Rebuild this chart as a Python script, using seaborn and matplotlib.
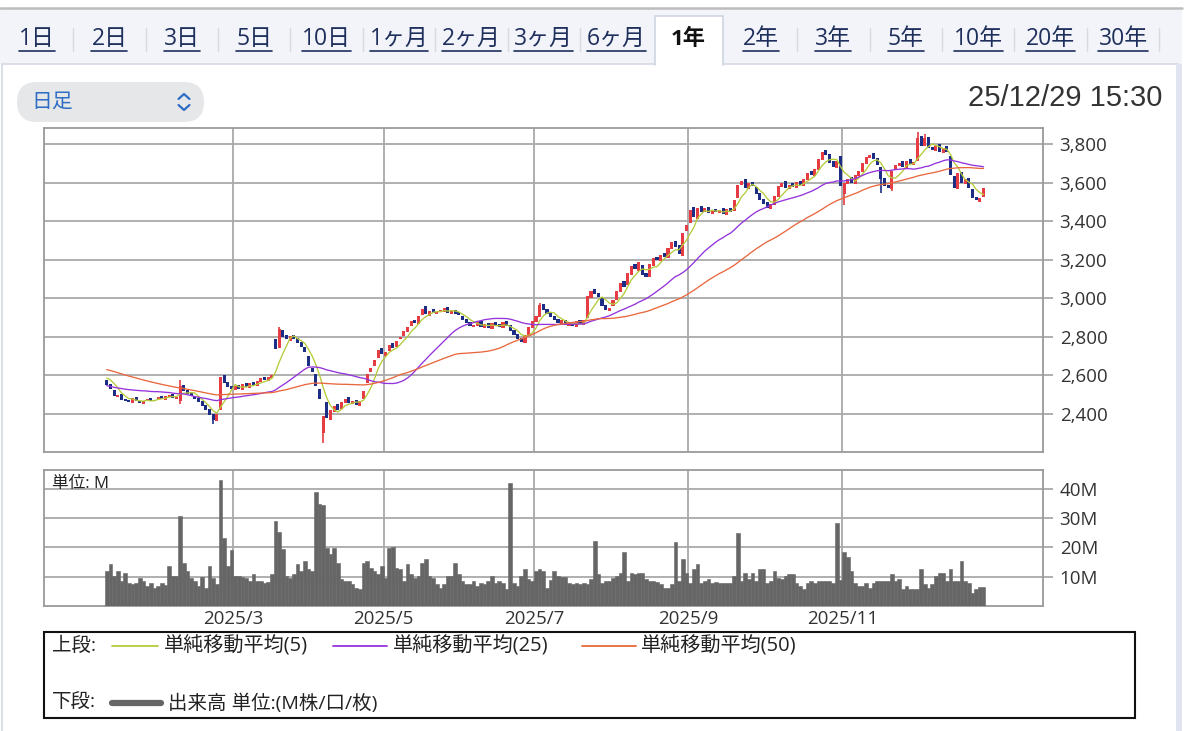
import numpy as np
import pandas as pd
import matplotlib
matplotlib.use("Agg")
import matplotlib.pyplot as plt
from matplotlib.patches import Rectangle, FancyBboxPatch
from matplotlib.ticker import FuncFormatter
import seaborn as sns

# ------------------------------------------------------------------
# data (2025 daily bars)
# ------------------------------------------------------------------
JP_HOLIDAYS = ["2025-01-13", "2025-02-11", "2025-02-24", "2025-03-20",
               "2025-04-29", "2025-05-05", "2025-05-06", "2025-07-21",
               "2025-08-11", "2025-09-15", "2025-09-23", "2025-10-13",
               "2025-11-03", "2025-11-24"]
START, END = "2025-01-08", "2025-12-29"

# closes before the window, only used to warm up the moving averages
pre_closes = [2785, 2770, 2790, 2760, 2745, 2755, 2730, 2720, 2740, 2715,
              2705, 2725, 2700, 2690, 2710, 2695, 2680, 2700, 2685, 2670,
              2690, 2675, 2660, 2680, 2665,
              2640, 2610, 2580, 2560, 2540, 2520, 2530, 2510, 2500, 2490,
              2510, 2520, 2500, 2495, 2515, 2530, 2545, 2560, 2540, 2555,
              2575, 2590, 2610, 2605]

closes = [2550, 2530, 2495, 2500, 2475, 2470, 2460, 2485, 2470, 2455,
          2465, 2480, 2470, 2475, 2490, 2480, 2495, 2500, 2485, 2490,
          2545, 2520, 2505, 2495, 2480, 2460, 2440, 2420, 2395, 2370,
          2400, 2590, 2560, 2540, 2530, 2545, 2530, 2555, 2540, 2560,
          2550, 2570, 2585, 2575, 2590, 2600, 2735, 2840, 2800, 2790,
          2805, 2790, 2770, 2745, 2720, 2650, 2620, 2545, 2480, 2390,
          2380, 2420, 2440, 2420, 2460, 2480, 2455, 2470, 2445, 2465,
          2520, 2610, 2640, 2680, 2730, 2710, 2720, 2760, 2740, 2780,
          2800, 2830, 2850, 2880, 2870, 2910, 2945, 2920, 2935, 2925,
          2930, 2940, 2950, 2925, 2935, 2920, 2915, 2890, 2870, 2855,
          2860, 2875, 2850, 2865, 2845, 2870, 2860, 2850, 2875, 2855,
          2830, 2810, 2790, 2775, 2810, 2850, 2880, 2910, 2965, 2940,
          2920, 2905, 2890, 2870, 2885, 2860, 2870, 2855, 2880, 2865,
          2885, 3010, 3040, 3020, 3005, 2960, 2940, 2950, 2990, 3040,
          3080, 3060, 3130, 3170, 3150, 3190, 3120, 3110, 3180, 3210,
          3200, 3225, 3215, 3260, 3290, 3265, 3230, 3340, 3380, 3460,
          3420, 3470, 3450, 3470, 3440, 3455, 3445, 3460, 3435, 3465,
          3450, 3510, 3590, 3610, 3570, 3600, 3580, 3540, 3510, 3490,
          3470, 3490, 3530, 3580, 3600, 3570, 3590, 3575, 3605, 3585,
          3620, 3650, 3640, 3670, 3720, 3760, 3745, 3700, 3680, 3710,
          3580, 3600, 3620, 3600, 3640, 3660, 3700, 3735, 3745, 3720,
          3690, 3620, 3580, 3570, 3660, 3690, 3700, 3680, 3710, 3695,
          3705, 3830, 3790, 3830, 3780, 3770, 3790, 3760, 3780, 3760,
          3640, 3570, 3650, 3600, 3620, 3570, 3520, 3510, 3520, 3570]

opens = [2575, 2555, 2525, 2490, 2505, 2480, 2475, 2455, 2490, 2470,
         2450, 2470, 2485, 2465, 2480, 2495, 2475, 2490, 2505, 2480,
         2470, 2550, 2525, 2510, 2495, 2485, 2465, 2445, 2425, 2400,
         2365, 2420, 2600, 2565, 2545, 2525, 2550, 2525, 2560, 2535,
         2565, 2545, 2565, 2590, 2570, 2585, 2790, 2740, 2835, 2810,
         2780, 2810, 2795, 2775, 2750, 2700, 2640, 2610, 2530, 2300,
         2460, 2370, 2410, 2450, 2425, 2455, 2490, 2450, 2475, 2440,
         2480, 2560, 2620, 2650, 2690, 2740, 2700, 2725, 2770, 2745,
         2790, 2805, 2825, 2855, 2890, 2865, 2915, 2960, 2910, 2945,
         2920, 2935, 2930, 2955, 2920, 2940, 2930, 2910, 2895, 2875,
         2850, 2855, 2880, 2845, 2870, 2840, 2875, 2865, 2845, 2880,
         2860, 2835, 2815, 2795, 2770, 2805, 2845, 2875, 2905, 2970,
         2945, 2925, 2910, 2895, 2860, 2890, 2855, 2875, 2850, 2885,
         2860, 2900, 3000, 3050, 3030, 3000, 2965, 2935, 2960, 2990,
         3035, 3090, 3070, 3120, 3180, 3140, 3175, 3130, 3110, 3170,
         3215, 3195, 3235, 3210, 3255, 3295, 3275, 3220, 3350, 3390,
         3475, 3410, 3480, 3445, 3475, 3435, 3465, 3440, 3470, 3430,
         3470, 3455, 3520, 3585, 3620, 3565, 3605, 3575, 3545, 3515,
         3500, 3465, 3485, 3525, 3575, 3610, 3565, 3600, 3570, 3610,
         3580, 3615, 3660, 3635, 3665, 3715, 3770, 3750, 3710, 3675,
         3740, 3540, 3595, 3630, 3595, 3635, 3655, 3695, 3730, 3755,
         3725, 3680, 3625, 3590, 3565, 3665, 3685, 3710, 3675, 3720,
         3690, 3710, 3840, 3790, 3835, 3785, 3765, 3800, 3755, 3790,
         3740, 3635, 3565, 3655, 3595, 3625, 3565, 3525, 3500, 3525]

# notable wicks (bar index -> price)
high_spikes = {20: 2575, 47: 2850, 118: 2975, 221: 3860, 223: 3850}
low_spikes = {20: 2450, 29: 2350, 59: 2250, 201: 3485, 211: 3545, 214: 3555}

# volume, millions of shares
volumes = [11.9, 14.2, 10.2, 11.9, 8.5, 11.3, 7.9, 7.4, 7.9, 9.6,
           8.5, 6.8, 7.9, 6.2, 6.8, 7.9, 7.0, 13.6, 10.2, 10.2,
           30.6, 14.7, 11.9, 9.6, 8.5, 6.8, 9.9, 6.2, 13.6, 9.6,
           7.4, 43.0, 23.2, 13.6, 19.0, 10.2, 10.2, 9.9, 9.6, 8.5,
           10.8, 8.5, 8.5, 7.9, 8.3, 10.8, 29.0, 25.3, 19.6, 10.2,
           9.6, 10.8, 14.2, 11.9, 15.5, 12.5, 12.0, 38.9, 34.8, 34.4,
           19.8, 17.6, 19.8, 14.7, 9.1, 8.7, 8.7, 7.4, 6.2, 5.8,
           14.7, 15.5, 13.0, 11.9, 10.8, 13.6, 9.6, 19.8, 20.0, 13.0,
           12.5, 8.7, 14.4, 10.8, 9.6, 10.2, 14.7, 15.9, 10.2, 9.6,
           7.4, 6.2, 7.4, 10.2, 10.2, 14.7, 10.8, 8.5, 7.4, 7.4,
           8.5, 6.8, 7.9, 7.4, 8.5, 10.2, 7.9, 8.5, 7.9, 5.7,
           42.0, 7.9, 6.8, 10.2, 12.5, 9.1, 8.5, 11.9, 12.5, 12.0,
           6.2, 9.0, 11.9, 10.2, 9.9, 9.9, 7.9, 7.4, 7.9, 7.4,
           7.9, 7.4, 9.1, 22.3, 10.8, 7.9, 8.5, 8.5, 9.6, 10.2,
           11.3, 18.4, 8.5, 11.3, 10.8, 11.3, 11.3, 9.1, 8.7, 8.5,
           8.3, 7.4, 6.2, 6.2, 7.4, 21.9, 8.5, 16.1, 11.3, 7.9,
           12.5, 14.4, 7.9, 8.7, 9.1, 7.9, 8.3, 7.9, 7.9, 7.9,
           7.9, 10.2, 24.9, 8.5, 11.3, 9.1, 11.3, 8.7, 12.5, 12.5,
           7.9, 8.5, 11.9, 9.6, 9.1, 10.2, 10.8, 10.8, 7.9, 6.8,
           5.7, 7.9, 8.5, 7.9, 8.5, 8.5, 8.5, 8.5, 7.9, 28.3,
           9.0, 18.4, 16.7, 11.9, 7.9, 6.8, 6.8, 7.9, 6.2, 7.9,
           8.5, 8.5, 8.5, 8.5, 10.8, 8.5, 9.1, 5.7, 6.8, 5.7,
           5.7, 5.7, 12.5, 7.4, 6.2, 7.4, 10.2, 11.3, 11.3, 8.5,
           12.5, 8.5, 8.5, 15.5, 8.5, 7.9, 4.5, 5.7, 6.6, 6.6]

MA_WINDOWS = [5, 25, 50]
PRICE_TICKS = [2400, 2600, 2800, 3000, 3200, 3400, 3600, 3800]
VOL_TICKS = [10, 20, 30, 40]
LABEL_MONTHS = [3, 5, 7, 9, 11]

TABS = ["1日", "2日", "3日", "5日", "10日", "1ヶ月", "2ヶ月", "3ヶ月", "6ヶ月",
        "1年", "2年", "3年", "5年", "10年", "20年", "30年"]
ACTIVE_TAB = "1年"
PERIOD_LABEL = "日足"
TIMESTAMP = "25/12/29 15:30"
LEGEND_MA = ["単純移動平均(5)", "単純移動平均(25)", "単純移動平均(50)"]
LEGEND_VOL = "出来高 単位:(M株/口/枚)"

# ------------------------------------------------------------------
# styles
# ------------------------------------------------------------------
RED = "#e63c44"
BLUE = "#1c2d86"
MA_COLORS = ["#b5cb3a", "#9433dc", "#e8683e"]
VOL_COLOR = "#666666"
GRID = "#a9a9a9"
TEXT = "#333333"
TAB_TEXT = "#1f2f5c"

sns.set_theme(style="white")
plt.rcParams["font.family"] = ["Open Sans", "Noto Sans CJK JP", "DejaVu Sans"]

# ------------------------------------------------------------------
# frame
# ------------------------------------------------------------------
days = pd.bdate_range(START, END, freq="C", holidays=JP_HOLIDAYS)
df = pd.DataFrame({"date": days, "open": opens, "close": closes,
                   "volume": volumes})
df["idx"] = np.arange(len(df))

full = pd.Series(pre_closes + closes, dtype=float)
for n in MA_WINDOWS:
    df[f"ma{n}"] = full.rolling(n).mean().iloc[len(pre_closes):].values

month_start = df.groupby(df["date"].dt.month)["idx"].min()
month_lines = [month_start[m] - 0.5 for m in LABEL_MONTHS]
month_texts = [f"2025/{m}" for m in LABEL_MONTHS]

W, H = 1200, 731
fig = plt.figure(figsize=(W / 100, H / 100), dpi=100)
fig.patch.set_facecolor("white")

bg = fig.add_axes([0, 0, 1, 1])
bg.set_xlim(0, W)
bg.set_ylim(H, 0)
bg.axis("off")


def px_axes(left, top, right, bottom):
    return fig.add_axes([left / W, 1 - bottom / H, (right - left) / W,
                         (bottom - top) / H])


# page chrome ---------------------------------------------------------
bg.add_patch(Rectangle((0, 8), 1182, 56, facecolor="#f2f4f9",
                       edgecolor="none"))
bg.plot([0, 1182], [7.5, 7.5], color="#bdbdbd", lw=1.8)
bg.add_patch(Rectangle((2, 64), 1176, 680, facecolor="white",
                       edgecolor="#d3d9e4", lw=1.2))
bg.add_patch(Rectangle((1176, 64), 6, 680, facecolor="#dfe4ee",
                       edgecolor="none"))

tab_x = [37 + 72.4 * k for k in range(len(TABS))]
active = TABS.index(ACTIVE_TAB)
ax0 = tab_x[active] - 34
bg.add_patch(Rectangle((ax0, 16), 68, 49, facecolor="white",
                       edgecolor="none", zorder=2))
bg.plot([ax0, ax0, ax0 + 68, ax0 + 68], [65, 16, 16, 65],
        color="#cfd5e0", lw=1.2, zorder=3)

tab_texts = []
for k, (label, x) in enumerate(zip(TABS, tab_x)):
    if k == active:
        bg.text(x, 39, label, ha="center", va="center", fontsize=16,
                fontweight="bold", color="#111111", zorder=4)
        continue
    t = bg.text(x, 39, label, ha="center", va="center", fontsize=16.5,
                color=TAB_TEXT, zorder=4)
    tab_texts.append(t)
    if k + 1 != active and k != active - 1:
        bg.plot([x + 36.2, x + 36.2], [28, 51], color="#d6dae3", lw=1)

bg.add_patch(FancyBboxPatch((17, 82), 187, 40,
                            boxstyle="round,pad=0,rounding_size=20",
                            facecolor="#e6e7e9", edgecolor="none"))
bg.text(31, 102, PERIOD_LABEL, ha="left", va="center", fontsize=15,
        color="#2f6cc4")
bg.plot([178.5, 184, 189.5], [99, 94, 99], color="#2f6cc4", lw=1.6)
bg.plot([178.5, 184, 189.5], [105, 110, 105], color="#2f6cc4", lw=1.6)
bg.text(1162, 98, TIMESTAMP, ha="right", va="center", fontsize=21,
        color=TEXT, family=["Liberation Sans", "DejaVu Sans"])

# price panel -------------------------------------------------------
ax_p = px_axes(44, 128, 1043, 452)
o = df["open"].to_numpy(float)
c = df["close"].to_numpy(float)
colors = np.where(c >= o, RED, BLUE)
body_lo = np.minimum(o, c)
body_h = np.maximum(np.abs(c - o), 6)
hi = np.maximum(o, c)
lo = np.minimum(o, c)
for i, v in high_spikes.items():
    hi[i] = max(hi[i], v)
for i, v in low_spikes.items():
    lo[i] = min(lo[i], v)

ax_p.vlines(df["idx"], lo, hi, colors=colors, lw=1.2, zorder=3)
ax_p.bar(df["idx"], body_h, bottom=body_lo, width=0.85, color=colors,
         linewidth=0, zorder=3)
for n, col in zip(MA_WINDOWS, MA_COLORS):
    sns.lineplot(data=df, x="idx", y=f"ma{n}", ax=ax_p, color=col,
                 lw=0.95, zorder=4)

ax_p.set_ylim(2203, 3883)
ax_p.set_yticks(PRICE_TICKS)
ax_p.yaxis.set_major_formatter(FuncFormatter(lambda v, _: f"{v:,.0f}"))

# volume panel ------------------------------------------------------
ax_v = px_axes(44, 470, 1043, 606)
sns.barplot(data=df, x="idx", y="volume", native_scale=True, width=1.0,
            color=VOL_COLOR, saturation=1, linewidth=0.4,
            edgecolor=VOL_COLOR, errorbar=None, ax=ax_v, zorder=3)
ax_v.set_ylim(0, 46.4)
ax_v.set_yticks(VOL_TICKS)
ax_v.yaxis.set_major_formatter(FuncFormatter(lambda v, _: f"{v:.0f}M"))
ax_v.text(0.008, 0.9, "単位: M", transform=ax_v.transAxes, fontsize=12,
          color="#222222", ha="left", va="center", zorder=5)

for ax in (ax_p, ax_v):
    ax.set_xlim(-17.1, 255.2)
    ax.set_xticks(month_lines)
    ax.set_xlabel("")
    ax.set_ylabel("")
    ax.set_axisbelow(True)
    ax.grid(True, color=GRID, lw=1.3)
    ax.yaxis.tick_right()
    ax.tick_params(axis="y", length=7, width=1.3, color=GRID, pad=5,
                   labelsize=13.5, labelcolor=TEXT)
    ax.tick_params(axis="x", length=0)
    for s in ax.spines.values():
        s.set_color("#9a9a9a")
        s.set_linewidth(1.3)

ax_p.tick_params(axis="x", labelbottom=False)
ax_v.set_xticklabels(month_texts)
ax_v.tick_params(axis="x", labelsize=13.5, labelcolor=TEXT, pad=3)

# legend box ----------------------------------------------------------
bg.add_patch(Rectangle((44, 632), 1091, 86, facecolor="none",
                       edgecolor="#111111", lw=1.5))
bg.text(52, 646, "上段:", fontsize=14, va="center", color="#222222")
bg.text(52, 703, "下段:", fontsize=14, va="center", color="#222222")
for (x0, x1, tx), label, col in zip([(112, 158, 164), (333, 387, 393),
                                     (582, 636, 641)], LEGEND_MA, MA_COLORS):
    bg.plot([x0, x1], [646, 646], color=col, lw=1.3)
    bg.text(tx, 646, label, fontsize=14.5, va="center", color="#222222")
bg.plot([112, 161], [703, 703], color=VOL_COLOR, lw=4.5)
bg.text(168, 703, LEGEND_VOL, fontsize=14, va="center", color="#222222")

# underline the link-style tabs
fig.canvas.draw()
renderer = fig.canvas.get_renderer()
inv = bg.transData.inverted()
for t in tab_texts:
    bb = t.get_window_extent(renderer)
    (x0, _), (x1, _) = inv.transform([[bb.x0, bb.y0], [bb.x1, bb.y1]])
    bg.plot([x0, x1], [50.5, 50.5], color=TAB_TEXT, lw=1.2, zorder=4)

fig.savefig("out.png", dpi=100)
